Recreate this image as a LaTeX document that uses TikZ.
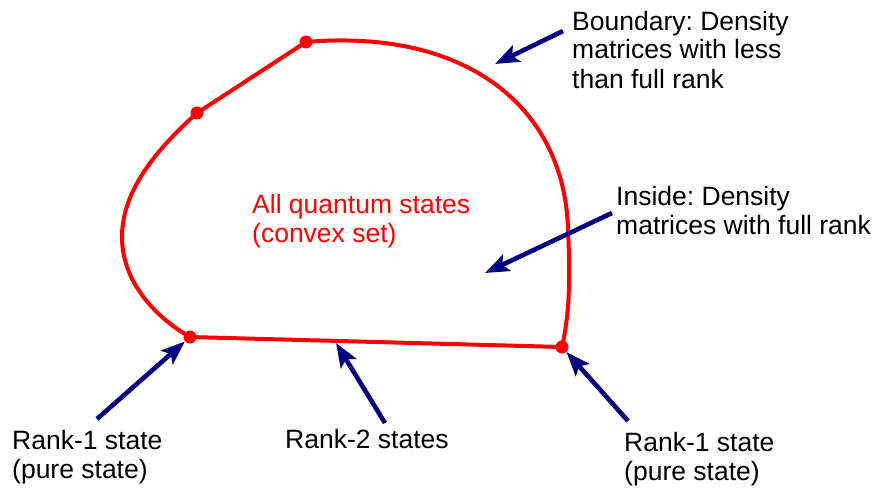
\documentclass[tikz,border=0pt]{standalone}
\usepackage{fontspec}
\setmainfont{Liberation Sans}
\usetikzlibrary{arrows.meta}
\definecolor{navy}{RGB}{0,0,128}
\frenchspacing
\begin{document}
\begin{tikzpicture}[x=1pt,y=-1pt,
  edge/.style={red,line width=4pt,line join=round},
  dot/.style={circle,fill=red,inner sep=0pt,minimum size=13pt},
  pointer/.style={navy,line width=4.6pt,-{Stealth[length=24pt,width=18pt,inset=5pt]}},
  lbl/.style={font=\fontsize{26.5}{29}\selectfont,align=left,inner sep=0pt,anchor=base west}]
\useasboundingbox (0,0) rectangle (874,487);
% corner points
\coordinate (p1) at (306,42);
\coordinate (p2) at (197,113);
\coordinate (p3) at (190,337);
\coordinate (p4) at (562,347);
% boundary
\draw[edge] (p2) -- (p1);
\draw[edge] (p1) .. controls (470,28) and (565,110) .. (568,230)
                 .. controls (571,290) and (568,320) .. (p4);
\draw[edge] (p2) .. controls (150,155) and (122,195) .. (122,237)
                 .. controls (122,285) and (160,320) .. (p3);
\draw[edge] (p3) -- (p4);
\node[dot] (d1) at (p1) {};
\node[dot] (d2) at (p2) {};
\node[dot] (d3) at (p3) {};
\node[dot] (d4) at (p4) {};
% labels (anchor at baseline of last line)
\node[lbl] (bnd) at (572,88) {Boundary: Density\\matrices with less\\than full rank};
\node[lbl] (ins) at (616,234) {Inside: Density\\matrices with full rank};
\node[lbl,text=red] (all) at (252,242) {All quantum states\\(convex set)};
\node[lbl] (r1l) at (12,478) {Rank-1 state\\(pure state)};
\node[lbl] (r2) at (285,448) {Rank-2 states};
\node[lbl] (r1r) at (624,480) {Rank-1 state\\(pure state)};
% arrows
\coordinate (tb) at (563,31);
\coordinate (hb) at (495,64);
\coordinate (ti) at (612,213);
\coordinate (hi) at (485,273);
\coordinate (tl) at (97,419);
\coordinate (tm) at (385,423);
\coordinate (hm) at (336,343);
\coordinate (tr) at (628,421);
\draw[pointer] (tb) -- (hb);
\draw[pointer] (ti) -- (hi);
\draw[pointer] (tl) -- (d3);
\draw[pointer] (tm) -- (hm);
\draw[pointer] (tr) -- (d4);
\end{tikzpicture}
\end{document}
